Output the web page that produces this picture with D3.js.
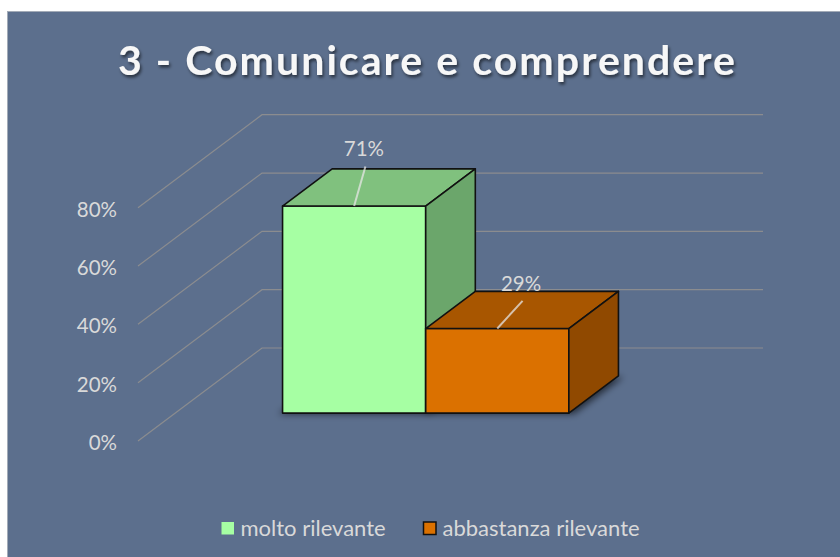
<!DOCTYPE html>
<html>
<head>
<meta charset="utf-8">
<script src="https://cdn.jsdelivr.net/npm/d3@7"></script>
<style>
  body { margin: 0; background: #fff; }
  svg { display: block; font-family: Lato, "Noto Sans", sans-serif; }
</style>
</head>
<body>
<svg id="chart"></svg>
<script>
const titleText = "3 - Comunicare e comprendere";
const categories = [""];
const seriesNames = ["molto rilevante", "abbastanza rilevante"];
const seriesValues = [0.71, 0.29];
const yTicks = [0, 0.2, 0.4, 0.6, 0.8];

const width = 840,
  height = 557;

// front plane of the 3d box and the depth offset
const front = { left: 138, right: 639, bottom: 441, top: 207.7 },
  depth = { dx: 124, dy: 93 },
  barDepth = [0.3, 0.7];

const faceColors = [
  { front: "#a6ffa3", top: "#80c17e", side: "#6ba66b" },
  { front: "#db7100", top: "#a85600", side: "#904900" }
];
// label nudges relative to the centre of each bar's top face
const labelNudge = [
  { dx: -15, dy: -39 },
  { dx: -1, dy: -27 }
];

const svg = d3.select("#chart").attr("width", width).attr("height", height);

const defs = svg.append("defs");
defs
  .append("filter")
  .attr("id", "title-shadow")
  .attr("x", "-10%").attr("y", "-30%").attr("width", "120%").attr("height", "160%")
  .append("feDropShadow")
  .attr("dx", 1.5).attr("dy", 2.5).attr("stdDeviation", 1.6)
  .attr("flood-color", "#000").attr("flood-opacity", 0.55);
defs
  .append("filter")
  .attr("id", "bar-shadow")
  .attr("x", "-20%").attr("y", "-20%").attr("width", "140%").attr("height", "140%")
  .append("feGaussianBlur")
  .attr("stdDeviation", 3.5);

svg
  .append("rect")
  .attr("x", 7.5).attr("y", 11.5)
  .attr("width", width - 7).attr("height", height - 11)
  .attr("fill", "#5c6f8d")
  .attr("stroke", "#a3abb7");

const y = d3.scaleLinear().domain([0, 0.8]).range([front.bottom, front.top]);

const x0 = d3
  .scaleBand()
  .domain(categories)
  .range([front.left, front.right])
  .padding(0.75 / 2.75);

const x1 = d3.scaleBand().domain(seriesNames).range([0, x0.bandwidth()]);

const proj = (px, v, z) => [px + z * depth.dx, y(v) - z * depth.dy];

// gridlines: side wall diagonals + back wall horizontals
const grid = svg.append("g").attr("fill", "none").attr("stroke", "#8b8c8f").attr("stroke-width", 1.2);
yTicks.forEach((t) => {
  grid
    .append("path")
    .attr("d", d3.line()([proj(front.left, t, 0), proj(front.left, t, 1), proj(front.right, t, 1)]));
});

svg
  .append("g")
  .selectAll("text")
  .data(yTicks)
  .join("text")
  .attr("x", 117)
  .attr("y", (d) => y(d) + 1)
  .attr("text-anchor", "end")
  .attr("dominant-baseline", "central")
  .attr("fill", "#d9d9d9")
  .style("font-size", "20.5px")
  .text(d3.format(".0%"));

const bars = seriesNames.map((name, i) => {
  const a = x0(categories[0]) + x1(name),
    b = a + x1.bandwidth(),
    v = seriesValues[i],
    [zf, zb] = barDepth;
  return {
    name,
    v,
    i,
    bottom: [proj(a, 0, zf), proj(b, 0, zf), proj(b, 0, zb), proj(a, 0, zb)],
    front: [proj(a, 0, zf), proj(b, 0, zf), proj(b, v, zf), proj(a, v, zf)],
    top: [proj(a, v, zf), proj(b, v, zf), proj(b, v, zb), proj(a, v, zb)],
    side: [proj(b, 0, zf), proj(b, 0, zb), proj(b, v, zb), proj(b, v, zf)],
    frontTop: proj((a + b) / 2, v, zf),
    topCentre: proj((a + b) / 2, v, (zf + zb) / 2)
  };
});

const poly = (pts) => d3.line()(pts) + "Z";

svg
  .append("g")
  .attr("filter", "url(#bar-shadow)")
  .selectAll("path")
  .data(bars)
  .join("path")
  .attr("d", (d) => poly(d.bottom.map((p, k) => [p[0] + (k === 0 || k === 3 ? -4 : 5), p[1] + 1])))
  .attr("fill", "#000")
  .attr("opacity", 0.6);

const barG = svg.append("g").attr("stroke", "#111").attr("stroke-width", 1.6).attr("stroke-linejoin", "round");
bars.forEach((d) => {
  const g = barG.append("g");
  g.append("path").attr("d", poly(d.front)).attr("fill", faceColors[d.i].front);
  g.append("path").attr("d", poly(d.top)).attr("fill", faceColors[d.i].top);
  g.append("path").attr("d", poly(d.side)).attr("fill", faceColors[d.i].side);
});

// data labels with leader lines
bars.forEach((d) => {
  const lx = d.topCentre[0] + labelNudge[d.i].dx,
    ly = d.topCentre[1] + labelNudge[d.i].dy;
  svg
    .append("line")
    .attr("x1", d.frontTop[0])
    .attr("y1", d.frontTop[1])
    .attr("x2", lx + 1.5)
    .attr("y2", ly + 18)
    .attr("stroke", "#e6e6e6")
    .attr("stroke-opacity", 0.75)
    .attr("stroke-width", 2);
  svg
    .append("text")
    .attr("x", lx)
    .attr("y", ly)
    .attr("text-anchor", "middle")
    .attr("dominant-baseline", "central")
    .attr("fill", "#d9d9d9")
    .style("font-size", "20.5px")
    .text(d3.format(".0%")(d.v));
});

svg
  .append("text")
  .attr("x", 426.5)
  .attr("y", 75)
  .attr("text-anchor", "middle")
  .attr("fill", "#f7f7f7")
  .attr("filter", "url(#title-shadow)")
  .attr("textLength", 617)
  .attr("lengthAdjust", "spacing")
  .style("font-size", "41px")
  .style("font-weight", "bold")
  .text(titleText);

// legend
const legendX = [221.5, 423.5];
const legend = svg
  .append("g")
  .selectAll("g")
  .data(seriesNames)
  .join("g")
  .attr("transform", (d, i) => `translate(${legendX[i]},522)`);

legend
  .append("rect")
  .attr("width", 12.5)
  .attr("height", 12.5)
  .attr("fill", (d, i) => faceColors[i].front)
  .attr("stroke", (d, i) => (i === 0 ? "none" : "#111"))
  .attr("stroke-width", 1.5);

legend
  .append("text")
  .attr("x", 19)
  .attr("y", 13.5)
  .attr("fill", "#d9d9d9")
  .style("font-size", "22px")
  .text((d) => d);
</script>
</body>
</html>
